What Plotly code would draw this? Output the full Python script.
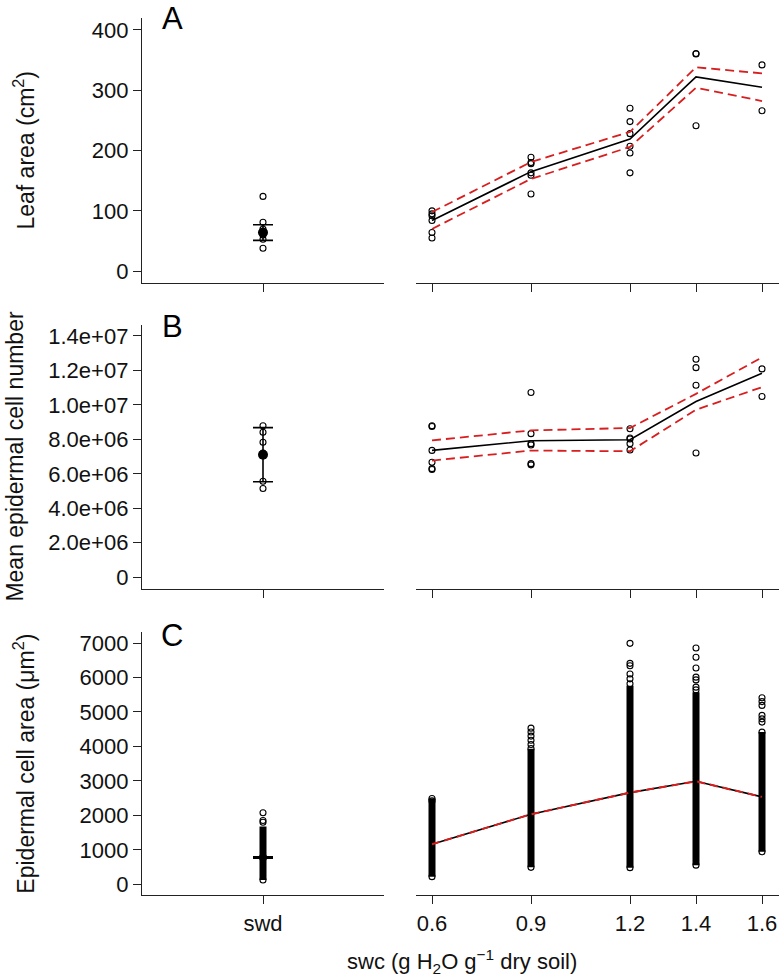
import plotly.graph_objects as go

FONT = "Liberation Sans, Arial, Helvetica, sans-serif"
W, H = 782, 979

# ---------------- data ----------------
swc = [0.6, 0.9, 1.2, 1.4, 1.6]
x_tick_text = ["0.6", "0.9", "1.2", "1.4", "1.6"]

# Panel A: leaf area (cm2)
a_swd_points = [124, 81, 70, 60, 53, 38]
a_swd_mean = 64
a_swd_err = 13
a_mean = [84, 165, 219, 322, 305]
a_upper = [98, 181, 231, 338, 328]
a_lower = [70, 153, 206, 304, 282]
a_pts_06 = [100, 95, 92, 84, 64, 55]
a_pts_09 = [189, 180, 178, 163, 159, 128]
a_pts_12 = [270, 248, 228, 207, 196, 163]
a_pts_14 = [361, 360, 241]
a_pts_16 = [342, 266]
a_ticks = [0, 100, 200, 300, 400]
a_tick_text = ["0", "100", "200", "300", "400"]

# Panel B: mean epidermal cell number
b_swd_points = [8.79e6, 8.41e6, 7.83e6, 7.2e6, 5.57e6, 5.15e6]
b_swd_mean = 7.11e6
b_swd_err = 1.57e6
b_mean = [7.36e6, 7.92e6, 7.98e6, 10.2e6, 11.84e6]
b_upper = [7.94e6, 8.52e6, 8.66e6, 10.64e6, 12.76e6]
b_lower = [6.77e6, 7.35e6, 7.31e6, 9.72e6, 11.03e6]
b_pts_06 = [8.79e6, 8.75e6, 7.36e6, 6.67e6, 6.30e6, 6.25e6]
b_pts_09 = [10.72e6, 8.33e6, 7.75e6, 7.67e6, 6.59e6, 6.52e6]
b_pts_12 = [8.62e6, 8.08e6, 8.02e6, 7.75e6, 7.38e6]
b_pts_14 = [12.65e6, 12.16e6, 11.14e6, 7.21e6]
b_pts_16 = [12.09e6, 10.49e6]
b_ticks = [0, 2e6, 4e6, 6e6, 8e6, 10e6, 12e6, 14e6]
b_tick_text = ["0", "2.0e+06", "4.0e+06", "6.0e+06", "8.0e+06",
               "1.0e+07", "1.2e+07", "1.4e+07"]

# Panel C: epidermal cell area (um2) - dense columns of cells + sparse extremes
c_swd_low = 125
c_swd_high = 1680
c_swd_extremes = [2075, 1850, 1800, 125]
c_swd_mean = 780
c_swd_err = 15
c_mean = [1163, 2031, 2660, 2988, 2536]
c_dense_low = [222, 492, 483, 555, 943]
c_dense_high = [2488, 3930, 5760, 5575, 4420]
c_ext_06 = [2488, 2420, 222]
c_ext_09 = [4530, 4420, 4300, 4180, 4055, 3940, 492]
c_ext_12 = [6990, 6410, 6340, 6100, 5960, 5815, 483]
c_ext_14 = [6855, 6585, 6275, 6010, 5930, 5720, 5640, 555]
c_ext_16 = [5410, 5300, 5190, 4900, 4800, 4705, 4415, 943]
c_ticks = [0, 1000, 2000, 3000, 4000, 5000, 6000, 7000]
c_tick_text = ["0", "1000", "2000", "3000", "4000", "5000", "6000", "7000"]

# ---------------- style ----------------
AX = "#222222"
RED = "#d81e1e"
TICKFONT = dict(family=FONT, size=22, color="#111111")


def px_x(p):
    return p / W


def px_y(p):
    return 1 - p / H


XL = [px_x(142), px_x(384)]
XR = [px_x(416), px_x(779)]
YA = [px_y(283), px_y(17)]
YB = [px_y(590), px_y(325)]
YC = [px_y(897), px_y(633)]

RA = [-19.83, 419.83]
RB = [-0.694e6, 14.636e6]
RC = [-318, 7318]
RXL = [-1, 1]
RXR = [0.5515, 1.6515]

fig = go.Figure()

open_marker = dict(symbol="circle-open", size=6, color="black", line=dict(width=1.1, color="black"))


def groups(xs, lists):
    gx, gy = [], []
    for x, vals in zip(xs, lists):
        gx += [x] * len(vals)
        gy += list(vals)
    return gx, gy


def add_right(xa, ya, mean, upper, lower, ptx, pty):
    fig.add_trace(go.Scatter(x=ptx, y=pty, mode="markers", marker=open_marker,
                             xaxis=xa, yaxis=ya, showlegend=False, hoverinfo="skip"))
    fig.add_trace(go.Scatter(x=swc, y=mean, mode="lines", line=dict(color="black", width=1.6),
                             xaxis=xa, yaxis=ya, showlegend=False))
    for band in (upper, lower):
        fig.add_trace(go.Scatter(x=swc, y=band, mode="lines",
                                 line=dict(color=RED, width=1.8, dash="9px,5px"),
                                 xaxis=xa, yaxis=ya, showlegend=False))


def add_left(xa, ya, pts, mean, err):
    fig.add_trace(go.Scatter(x=[0] * len(pts), y=pts, mode="markers", marker=open_marker,
                             xaxis=xa, yaxis=ya, showlegend=False))
    fig.add_trace(go.Scatter(x=[0], y=[mean], mode="markers",
                             marker=dict(symbol="circle", size=10, color="black"),
                             error_y=dict(type="data", array=[err], visible=True, width=10,
                                          thickness=1.6, color="black"),
                             xaxis=xa, yaxis=ya, showlegend=False))


# Panel A
add_left("x", "y", a_swd_points, a_swd_mean, a_swd_err)
gx, gy = groups(swc, [a_pts_06, a_pts_09, a_pts_12, a_pts_14, a_pts_16])
add_right("x2", "y2", a_mean, a_upper, a_lower, gx, gy)

# Panel B
add_left("x3", "y3", b_swd_points, b_swd_mean, b_swd_err)
gx, gy = groups(swc, [b_pts_06, b_pts_09, b_pts_12, b_pts_14, b_pts_16])
add_right("x4", "y4", b_mean, b_upper, b_lower, gx, gy)

# Panel C left
fig.add_trace(go.Scatter(x=[0, 0], y=[c_swd_low, c_swd_high], mode="lines",
                         line=dict(color="black", width=7), xaxis="x5", yaxis="y5", showlegend=False))
fig.add_trace(go.Scatter(x=[0] * len(c_swd_extremes), y=c_swd_extremes, mode="markers",
                         marker=open_marker, xaxis="x5", yaxis="y5", showlegend=False))
fig.add_trace(go.Scatter(x=[0], y=[c_swd_mean], mode="markers",
                         marker=dict(symbol="circle", size=8, color="black"),
                         error_y=dict(type="data", array=[c_swd_err], visible=True, width=10,
                                      thickness=2, color="black"),
                         xaxis="x5", yaxis="y5", showlegend=False))

# Panel C right
for x, lo, hi in zip(swc, c_dense_low, c_dense_high):
    fig.add_trace(go.Scatter(x=[x, x], y=[lo, hi], mode="lines",
                             line=dict(color="black", width=7), xaxis="x6", yaxis="y6",
                             showlegend=False))
gx, gy = groups(swc, [c_ext_06, c_ext_09, c_ext_12, c_ext_14, c_ext_16])
fig.add_trace(go.Scatter(x=gx, y=gy, mode="markers", marker=open_marker,
                         xaxis="x6", yaxis="y6", showlegend=False))
fig.add_trace(go.Scatter(x=swc, y=c_mean, mode="lines", line=dict(color="black", width=1.6),
                         xaxis="x6", yaxis="y6", showlegend=False))
fig.add_trace(go.Scatter(x=swc, y=c_mean, mode="lines",
                         line=dict(color=RED, width=2, dash="8px,5px"),
                         xaxis="x6", yaxis="y6", showlegend=False))


def xaxis_left(anchor, labels):
    return dict(domain=XL, range=RXL, anchor=anchor, showline=True, linecolor=AX, linewidth=1.4,
                showgrid=False, zeroline=False, ticks="outside", ticklen=8, tickwidth=1.4,
                tickcolor=AX, tickvals=[0], ticktext=["swd"], showticklabels=labels,
                tickfont=TICKFONT, fixedrange=True)


def xaxis_right(anchor, labels):
    return dict(domain=XR, range=RXR, anchor=anchor, showline=True, linecolor=AX, linewidth=1.4,
                showgrid=False, zeroline=False, ticks="outside", ticklen=8, tickwidth=1.4,
                tickcolor=AX, tickvals=swc, ticktext=x_tick_text, showticklabels=labels,
                tickfont=TICKFONT, fixedrange=True)


def yaxis_left(anchor, dom, rng, tv, tt):
    return dict(domain=dom, range=rng, anchor=anchor, showline=True, linecolor=AX, linewidth=1.4,
                showgrid=False, zeroline=False, ticks="outside", ticklen=8, tickwidth=1.4,
                tickcolor=AX, tickvals=tv, ticktext=tt, tickfont=TICKFONT, fixedrange=True)


def yaxis_right(anchor, dom, rng):
    return dict(domain=dom, range=rng, anchor=anchor, showline=False, showgrid=False,
                zeroline=False, showticklabels=False, ticks="", fixedrange=True)


fig.update_layout(
    width=W, height=H,
    margin=dict(l=0, r=0, t=0, b=0),
    paper_bgcolor="white", plot_bgcolor="white",
    font=dict(family=FONT, size=22, color="#111111"),
    showlegend=False,
    xaxis=xaxis_left("y", False),
    yaxis=yaxis_left("x", YA, RA, a_ticks, a_tick_text),
    xaxis2=xaxis_right("y2", False),
    yaxis2=yaxis_right("x2", YA, RA),
    xaxis3=xaxis_left("y3", False),
    yaxis3=yaxis_left("x3", YB, RB, b_ticks, b_tick_text),
    xaxis4=xaxis_right("y4", False),
    yaxis4=yaxis_right("x4", YB, RB),
    xaxis5=xaxis_left("y5", True),
    yaxis5=yaxis_left("x5", YC, RC, c_ticks, c_tick_text),
    xaxis6=xaxis_right("y6", True),
    yaxis6=yaxis_right("x6", YC, RC),
)

ann = []
for letter, cy in (("A", 18), ("B", 327), ("C", 636)):
    ann.append(dict(text=letter, x=px_x(172), y=px_y(cy), xref="paper", yref="paper",
                    xanchor="center", yanchor="middle", showarrow=False,
                    font=dict(family=FONT, size=31, color="black")))
for text, cx, cy in (("Leaf area (cm<sup>2</sup>)", 24, 150),
                     ("Mean epidermal cell number", 15, 457),
                     ("Epidermal cell area (μm<sup>2</sup>)", 24, 765)):
    ann.append(dict(text=text, x=px_x(cx), y=px_y(cy), xref="paper", yref="paper",
                    xanchor="center", yanchor="middle", textangle=-90, showarrow=False,
                    font=dict(family=FONT, size=23, color="#111111")))
ann.append(dict(text="swc (g H<sub>2</sub>O g<sup>−1</sup> dry soil)", x=px_x(462), y=px_y(963),
                xref="paper", yref="paper", xanchor="center", yanchor="middle", showarrow=False,
                font=dict(family=FONT, size=22, color="#111111")))
fig.update_layout(annotations=ann)

fig.write_html("out.html", config={"displayModeBar": False},
               post_script="document.body.style.margin='0';")
